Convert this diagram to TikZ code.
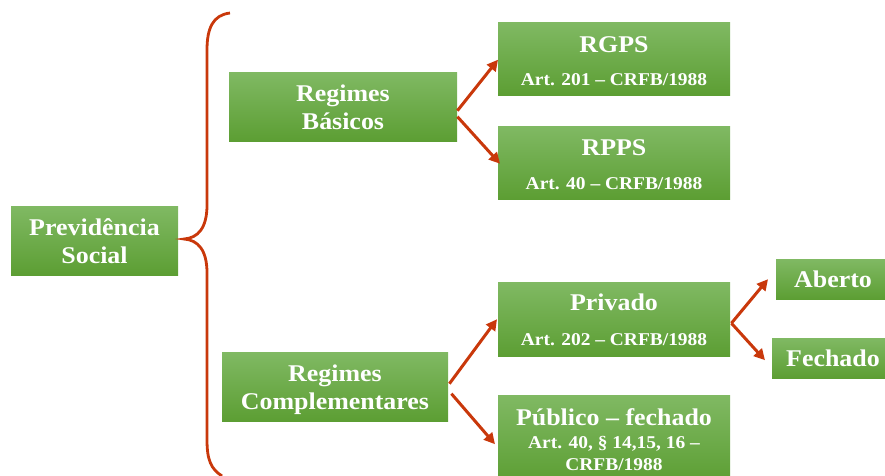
\documentclass[tikz,border=0pt]{standalone}
\usepackage{fontspec}
\setmainfont{Liberation Serif}[FakeStretch=1.08]
\usetikzlibrary{arrows.meta}
\definecolor{gtop}{HTML}{80B963}
\definecolor{gbot}{HTML}{5C9E33}
\definecolor{arrc}{HTML}{C9380B}
\tikzset{
  box/.style={draw=none, top color=gtop, bottom color=gbot, inner sep=0pt, anchor=north west},
  ttl/.style={text=white, font=\bfseries\fontsize{24}{28}\selectfont, align=center, inner sep=0pt},
  artx/.style={text=white, font=\bfseries\fontsize{18}{22}\selectfont, align=center, inner sep=0pt},
  conn/.style={draw=arrc, line width=3pt, -{Triangle[length=11pt,width=11pt]}},
  bracestyle/.style={draw=arrc, line width=2.8pt},
}
\begin{document}
\begin{tikzpicture}[x=1pt,y=-1pt]
\useasboundingbox (0,0) rectangle (885,475);
\clip (0,0) rectangle (885,475);
% boxes
\node[box, minimum width=167pt, minimum height=69pt] (ps) at (11,206) {};
\node[box, minimum width=228pt, minimum height=69pt] (rb) at (229,72) {};
\node[box, minimum width=226pt, minimum height=69pt] (rc) at (222,352) {};
\node[box, minimum width=232pt, minimum height=73pt] (rgps) at (498,22) {};
\node[box, minimum width=232pt, minimum height=73pt] (rpps) at (498,126) {};
\node[box, minimum width=232pt, minimum height=74pt] (priv) at (498,282) {};
\node[box, minimum width=232pt, minimum height=88pt] (pub) at (498,395) {};
\node[box, minimum width=116pt, minimum height=40pt] (ab) at (776,259) {};
\node[box, minimum width=122pt, minimum height=40pt] (fe) at (772,338) {};
% texts
\node[ttl, anchor=base] (psT) at (94.5,235) {Previdência};
\node[ttl, anchor=base] (psT2) at (94.5,263) {Social};
\node[ttl, anchor=base] (rbT) at (343,101) {Regimes};
\node[ttl, anchor=base] (rbT2) at (343,129) {Básicos};
\node[ttl, anchor=base] (rcT) at (335,381) {Regimes};
\node[ttl, anchor=base] (rcT2) at (335,409) {Complementares};
\node[ttl, anchor=base] (rgpsT) at (614,52) {RGPS};
\node[artx, anchor=base] (rgpsA) at (614,85) {Art. 201 – CRFB/1988};
\node[ttl, anchor=base] (rppsT) at (614,155) {RPPS};
\node[artx, anchor=base] (rppsA) at (614,189) {Art. 40 – CRFB/1988};
\node[ttl, anchor=base] (privT) at (614,310) {Privado};
\node[artx, anchor=base] (privA) at (614,345) {Art. 202 – CRFB/1988};
\node[ttl, anchor=base] (pubT) at (614,425) {Público – fechado};
\node[artx, anchor=base] (pubA) at (614,448) {Art. 40, § 14,15, 16 –};
\node[artx, anchor=base] (pubB) at (614,470) {CRFB/1988};
\node[ttl, anchor=base] (abT) at (833,287) {Aberto};
\node[ttl, anchor=base] (feT) at (833,366) {Fechado};
% brace
\draw[bracestyle] (230,13) .. controls (213,15) and (207,28) .. (207,50) -- (207,205)
  .. controls (207,228) and (198,238) .. (184,239)
  .. controls (198,240) and (207,250) .. (207,273) -- (207,440)
  .. controls (207,460) and (211,469) .. (222,476);
% connectors
\draw[conn] ([yshift=-4pt]rb.east) -- ([yshift=-1pt]rgps.west);
\draw[conn] ([yshift=-10pt]rb.east) -- ([xshift=2pt,yshift=-1pt]rpps.west);
\draw[conn] ([xshift=1pt,yshift=3pt]rc.east) -- ([xshift=-1pt,yshift=0pt]priv.west);
\draw[conn] ([xshift=3pt,yshift=-7pt]rc.east) -- ([xshift=-3pt,yshift=-5pt]pub.west);
\draw[conn] ([xshift=1pt,yshift=-4pt]priv.east) -- ([xshift=-8pt]ab.west);
\draw[conn] ([xshift=1pt,yshift=-4pt]priv.east) -- ([xshift=-7pt,yshift=-2pt]fe.west);
\end{tikzpicture}
\end{document}
